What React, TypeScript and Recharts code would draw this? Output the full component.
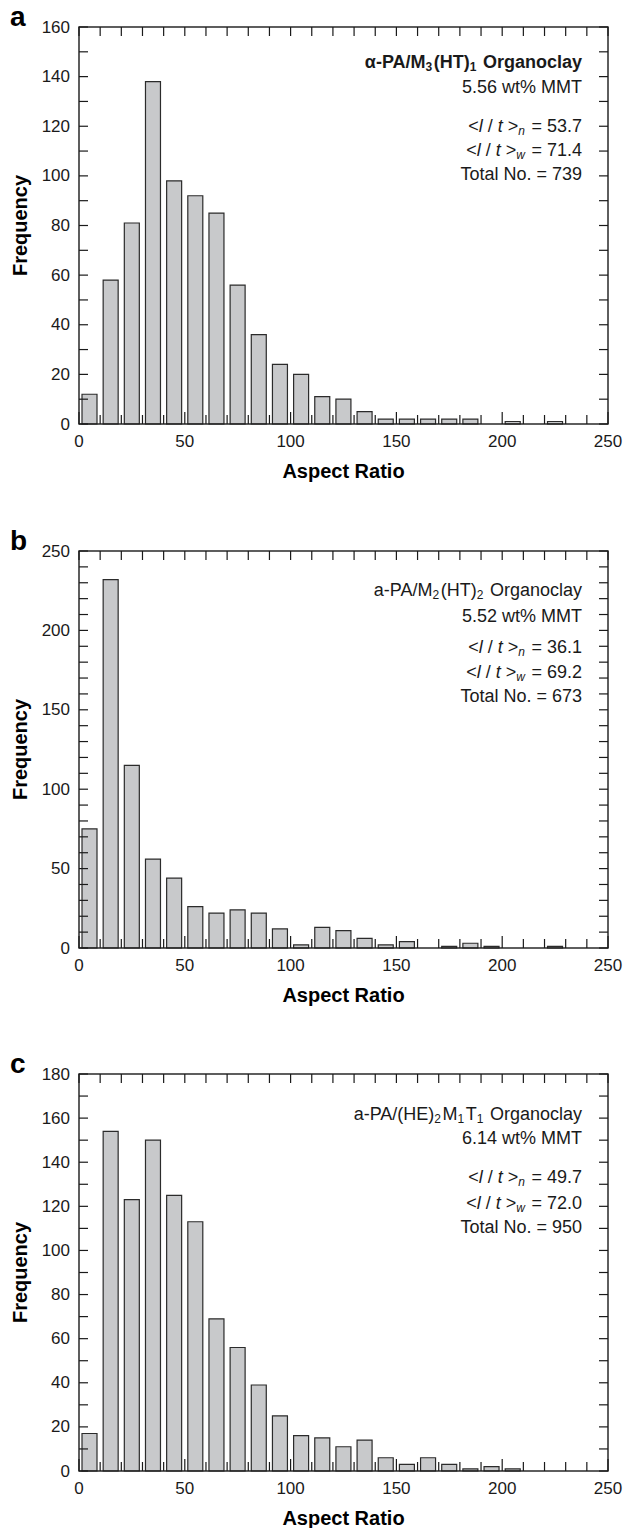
import { BarChart, Bar, XAxis, YAxis } from 'recharts'

// histogram bins (aspect ratio, bin centres) and counts per panel
const binCenters = [5, 15, 25, 35, 45, 55, 65, 75, 85, 95, 105, 115, 125, 135, 145, 155, 165, 175, 185, 195, 205, 215, 225, 235, 245]
const freqA = [12, 58, 81, 138, 98, 92, 85, 56, 36, 24, 20, 11, 10, 5, 2, 2, 2, 2, 2, 0, 1, 0, 1, 0, 0]
const freqB = [75, 232, 115, 56, 44, 26, 22, 24, 22, 12, 2, 13, 11, 6, 2, 4, 0, 1, 3, 1, 0, 0, 1, 0, 0]
const freqC = [17, 154, 123, 150, 125, 113, 69, 56, 39, 25, 16, 15, 11, 14, 6, 3, 6, 3, 1, 2, 1, 0, 0, 0, 0]

const xTicks = [0, 10, 20, 30, 40, 50, 60, 70, 80, 90, 100, 110, 120, 130, 140, 150, 160, 170, 180, 190, 200, 210, 220, 230, 240, 250]
const xLabels = [0, 50, 100, 150, 200, 250]
const yTicksA = [0, 10, 20, 30, 40, 50, 60, 70, 80, 90, 100, 110, 120, 130, 140, 150, 160]
const yLabelsA = [0, 20, 40, 60, 80, 100, 120, 140, 160]
const yTicksB = [0, 10, 20, 30, 40, 50, 60, 70, 80, 90, 100, 110, 120, 130, 140, 150, 160, 170, 180, 190, 200, 210, 220, 230, 240, 250]
const yLabelsB = [0, 50, 100, 150, 200, 250]
const yTicksC = [0, 10, 20, 30, 40, 50, 60, 70, 80, 90, 100, 110, 120, 130, 140, 150, 160, 170, 180]
const yLabelsC = [0, 20, 40, 60, 80, 100, 120, 140, 160, 180]

const W = 624
const H = 460
const OVER_H = 490
const PL = 79
const PR = 608
const PT = 27
const PB = 424
const INK = '#1a1a1a'
const FONT = '"Liberation Sans", Arial, Helvetica, sans-serif'

const XTick = ({ x, payload }: any) => {
  const v = payload.value
  const major = xLabels.includes(v)
  return (
    <g>
      <line x1={x} x2={x} y1={PB} y2={PB - (major ? 12 : 9)} stroke={INK} strokeWidth={1.2} />
      <line x1={x} x2={x} y1={PT} y2={PT + 9} stroke={INK} strokeWidth={1.2} />
      {major && (
        <text x={x} y={PB + 17} textAnchor="middle" dominantBaseline="central" fontSize={17} fill={INK} fontFamily={FONT}>
          {v}
        </text>
      )}
    </g>
  )
}

const makeYTick = (labels: number[]) => ({ y, payload }: any) => {
  const v = payload.value
  const major = labels.includes(v)
  return (
    <g>
      <line x1={PL} x2={PL + 9} y1={y} y2={y} stroke={INK} strokeWidth={1.2} />
      <line x1={PR - 9} x2={PR} y1={y} y2={y} stroke={INK} strokeWidth={1.2} />
      {major && (
        <text x={PL - 9} y={y} textAnchor="end" dominantBaseline="central" fontSize={17} fill={INK} fontFamily={FONT}>
          {v}
        </text>
      )}
    </g>
  )
}

const Sub = ({ children, italic }: { children: any; italic?: boolean }) => (
  <>
    <tspan dy={5} fontSize={12} fontStyle={italic ? 'italic' : 'normal'}>{children}</tspan>
    <tspan dy={-5}>{'\u200a'}</tspan>
  </>
)

const Avg = ({ k, val }: { k: string; val: string }) => (
  <>
    {'<'}<tspan fontStyle="italic">l</tspan>{' / '}<tspan fontStyle="italic">t</tspan>{' >'}
    <Sub italic>{k}</Sub>
    {' = ' + val}
  </>
)

interface PanelProps {
  letter: string
  top: number
  values: number[]
  yMax: number
  yTicks: number[]
  yLabels: number[]
  title: any
  bold?: boolean
  wt: string
  n: string
  w: string
  total: string
  lineY: number[]
}

function Panel({ letter, top, values, yMax, yTicks, yLabels, title, bold, wt, n, w, total, lineY }: PanelProps) {
  const data = binCenters.map((x, i) => ({ x, count: values[i] }))
  const tx = 582
  return (
    <div style={{ position: 'absolute', left: 0, top, width: W, height: H }}>
      <BarChart width={W} height={H} data={data} margin={{ top: PT, right: W - PR, bottom: 6, left: 19 }}>
        <XAxis
          type="number"
          dataKey="x"
          domain={[0, 250]}
          ticks={xTicks}
          interval={0}
          height={30}
          axisLine={false}
          tickLine={false}
          tick={<XTick />}
        />
        <YAxis
          type="number"
          domain={[0, yMax]}
          ticks={yTicks}
          interval={0}
          width={60}
          axisLine={false}
          tickLine={false}
          tick={makeYTick(yLabels)}
        />
        <Bar dataKey="count" barSize={15} fill="#c8c9cb" stroke="#2b2b2b" strokeWidth={1.2} isAnimationActive={false} />
      </BarChart>
      <svg width={W} height={OVER_H} style={{ position: 'absolute', left: 0, top: 0, pointerEvents: 'none', overflow: 'visible' }} fontFamily={FONT}>
        <rect x={PL} y={PT} width={PR - PL} height={PB - PT} fill="none" stroke={INK} strokeWidth={1.4} />
        <text x={10} y={26} fontSize={28} fontWeight="bold" fill="#000">{letter}</text>
        <text
          transform={`translate(20, ${(PT + PB) / 2}) rotate(-90)`}
          textAnchor="middle"
          dominantBaseline="central"
          fontSize={20}
          fontWeight="bold"
          fill="#000"
        >
          Frequency
        </text>
        <text x={(PL + PR) / 2} y={PB + 47} textAnchor="middle" dominantBaseline="central" fontSize={20} fontWeight="bold" fill="#000">
          Aspect Ratio
        </text>
        <g fontSize={18} fill={INK} textAnchor="end">
          <text x={tx} y={lineY[0]} dominantBaseline="central" fontWeight={bold ? 'bold' : 'normal'}>{title}</text>
          <text x={tx} y={lineY[1]} dominantBaseline="central">{wt}</text>
          <text x={tx} y={lineY[2]} dominantBaseline="central"><Avg k="n" val={n} /></text>
          <text x={tx} y={lineY[3]} dominantBaseline="central"><Avg k="w" val={w} /></text>
          <text x={tx} y={lineY[4]} dominantBaseline="central">{total}</text>
        </g>
      </svg>
    </div>
  )
}

export default function App() {
  return (
    <div style={{ position: 'absolute', left: 0, top: 0, width: W, height: 1528, background: '#fff' }}>
      <Panel
        letter="a"
        top={0}
        values={freqA}
        yMax={160}
        yTicks={yTicksA}
        yLabels={yLabelsA}
        bold
        title={<>α-PA/M<Sub>3</Sub>(HT)<Sub>1</Sub> Organoclay</>}
        wt="5.56 wt% MMT"
        n="53.7"
        w="71.4"
        total="Total No. = 739"
        lineY={[62, 87, 126, 150, 174]}
      />
      <Panel
        letter="b"
        top={524}
        values={freqB}
        yMax={250}
        yTicks={yTicksB}
        yLabels={yLabelsB}
        title={<>a-PA/M<Sub>2</Sub>(HT)<Sub>2</Sub> Organoclay</>}
        wt="5.52 wt% MMT"
        n="36.1"
        w="69.2"
        total="Total No. = 673"
        lineY={[66, 92, 123, 148, 172]}
      />
      <Panel
        letter="c"
        top={1047}
        values={freqC}
        yMax={180}
        yTicks={yTicksC}
        yLabels={yLabelsC}
        title={<>a-PA/(HE)<Sub>2</Sub>M<Sub>1</Sub>T<Sub>1</Sub> Organoclay</>}
        wt="6.14 wt% MMT"
        n="49.7"
        w="72.0"
        total="Total No. = 950"
        lineY={[67, 91, 130, 156, 180]}
      />
    </div>
  )
}
